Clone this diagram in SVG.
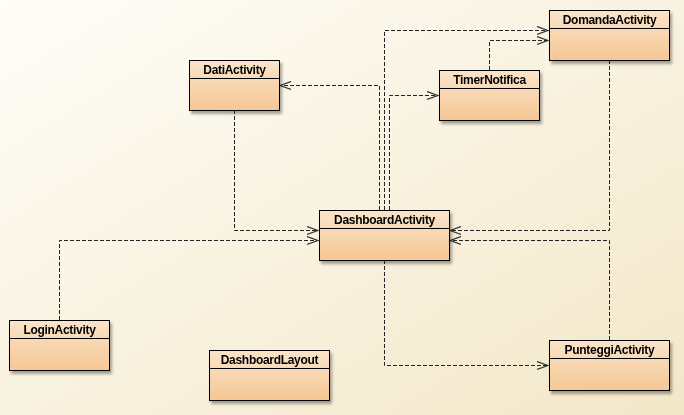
<svg xmlns="http://www.w3.org/2000/svg" width="684" height="415" viewBox="0 0 684 415">
<defs>
<linearGradient id="bg" x1="0" y1="0" x2="1" y2="1">
<stop offset="0" stop-color="#fefdf8"/>
<stop offset="1" stop-color="#f3e7c8"/>
</linearGradient>
<linearGradient id="nodefill" x1="0" y1="0" x2="0" y2="1">
<stop offset="0" stop-color="#fae4ca"/>
<stop offset="1" stop-color="#f5c794"/>
</linearGradient>
<filter id="shadow" x="-10%" y="-10%" width="130%" height="140%">
<feGaussianBlur in="SourceAlpha" stdDeviation="1.5"/>
<feOffset dx="2" dy="3" result="b"/>
<feComponentTransfer><feFuncA type="linear" slope="0.35"/></feComponentTransfer>
<feMerge><feMergeNode/><feMergeNode in="SourceGraphic"/></feMerge>
</filter>
<marker id="arrow" viewBox="0 0 12 10" refX="11" refY="5" markerWidth="12" markerHeight="10" markerUnits="userSpaceOnUse" orient="auto">
<path d="M0,1 L11,5 L0,9" fill="none" stroke="#333" stroke-width="1.2"/>
</marker>
</defs>
<style>
.box{fill:url(#nodefill);stroke:#000;stroke-width:1}
.div{stroke:#000;stroke-width:1}
.lbl{font-family:"Liberation Sans",Arial,sans-serif;font-size:12px;font-weight:bold;letter-spacing:-0.3px;fill:#000;text-anchor:middle}
.conn{fill:none;stroke:#222;stroke-width:1;stroke-dasharray:4,2;marker-end:url(#arrow)}
</style>
<rect x="0" y="0" width="684" height="415" fill="url(#bg)"/>
<g id="connectors">
<path class="conn" d="M234.5,110 V230.5 H318"/>
<path class="conn" d="M59.5,320 V240.5 H318"/>
<path class="conn" d="M609.5,60 V230.5 H450"/>
<path class="conn" d="M609.5,340 V240.5 H450"/>
<path class="conn" d="M384.5,260 V365.5 H548"/>
<path class="conn" d="M379.5,210 V85.5 H280"/>
<path class="conn" d="M384.5,210 V30.5 H548"/>
<path class="conn" d="M389.5,210 V95.5 H438"/>
<path class="conn" d="M489.5,70 V40.5 H548"/>
</g>
<g id="DomandaActivity" filter="url(#shadow)">
<rect class="box" x="549.5" y="10.5" width="120" height="50"/>
<line class="div" x1="549.5" y1="28.5" x2="669.5" y2="28.5"/>
<text class="lbl" x="609.5" y="24">DomandaActivity</text>
</g>
<g id="DatiActivity" filter="url(#shadow)">
<rect class="box" x="189.5" y="60.5" width="90" height="50"/>
<line class="div" x1="189.5" y1="78.5" x2="279.5" y2="78.5"/>
<text class="lbl" x="234.5" y="74">DatiActivity</text>
</g>
<g id="TimerNotifica" filter="url(#shadow)">
<rect class="box" x="439.5" y="70.5" width="100" height="50"/>
<line class="div" x1="439.5" y1="88.5" x2="539.5" y2="88.5"/>
<text class="lbl" x="489.5" y="84">TimerNotifica</text>
</g>
<g id="DashboardActivity" filter="url(#shadow)">
<rect class="box" x="319.5" y="210.5" width="130" height="50"/>
<line class="div" x1="319.5" y1="228.5" x2="449.5" y2="228.5"/>
<text class="lbl" x="384.5" y="224">DashboardActivity</text>
</g>
<g id="LoginActivity" filter="url(#shadow)">
<rect class="box" x="9.5" y="320.5" width="100" height="50"/>
<line class="div" x1="9.5" y1="338.5" x2="109.5" y2="338.5"/>
<text class="lbl" x="59.5" y="334">LoginActivity</text>
</g>
<g id="DashboardLayout" filter="url(#shadow)">
<rect class="box" x="209.5" y="350.5" width="120" height="50"/>
<line class="div" x1="209.5" y1="368.5" x2="329.5" y2="368.5"/>
<text class="lbl" x="269.5" y="364">DashboardLayout</text>
</g>
<g id="PunteggiActivity" filter="url(#shadow)">
<rect class="box" x="549.5" y="340.5" width="120" height="50"/>
<line class="div" x1="549.5" y1="358.5" x2="669.5" y2="358.5"/>
<text class="lbl" x="609.5" y="354">PunteggiActivity</text>
</g>
</svg>
